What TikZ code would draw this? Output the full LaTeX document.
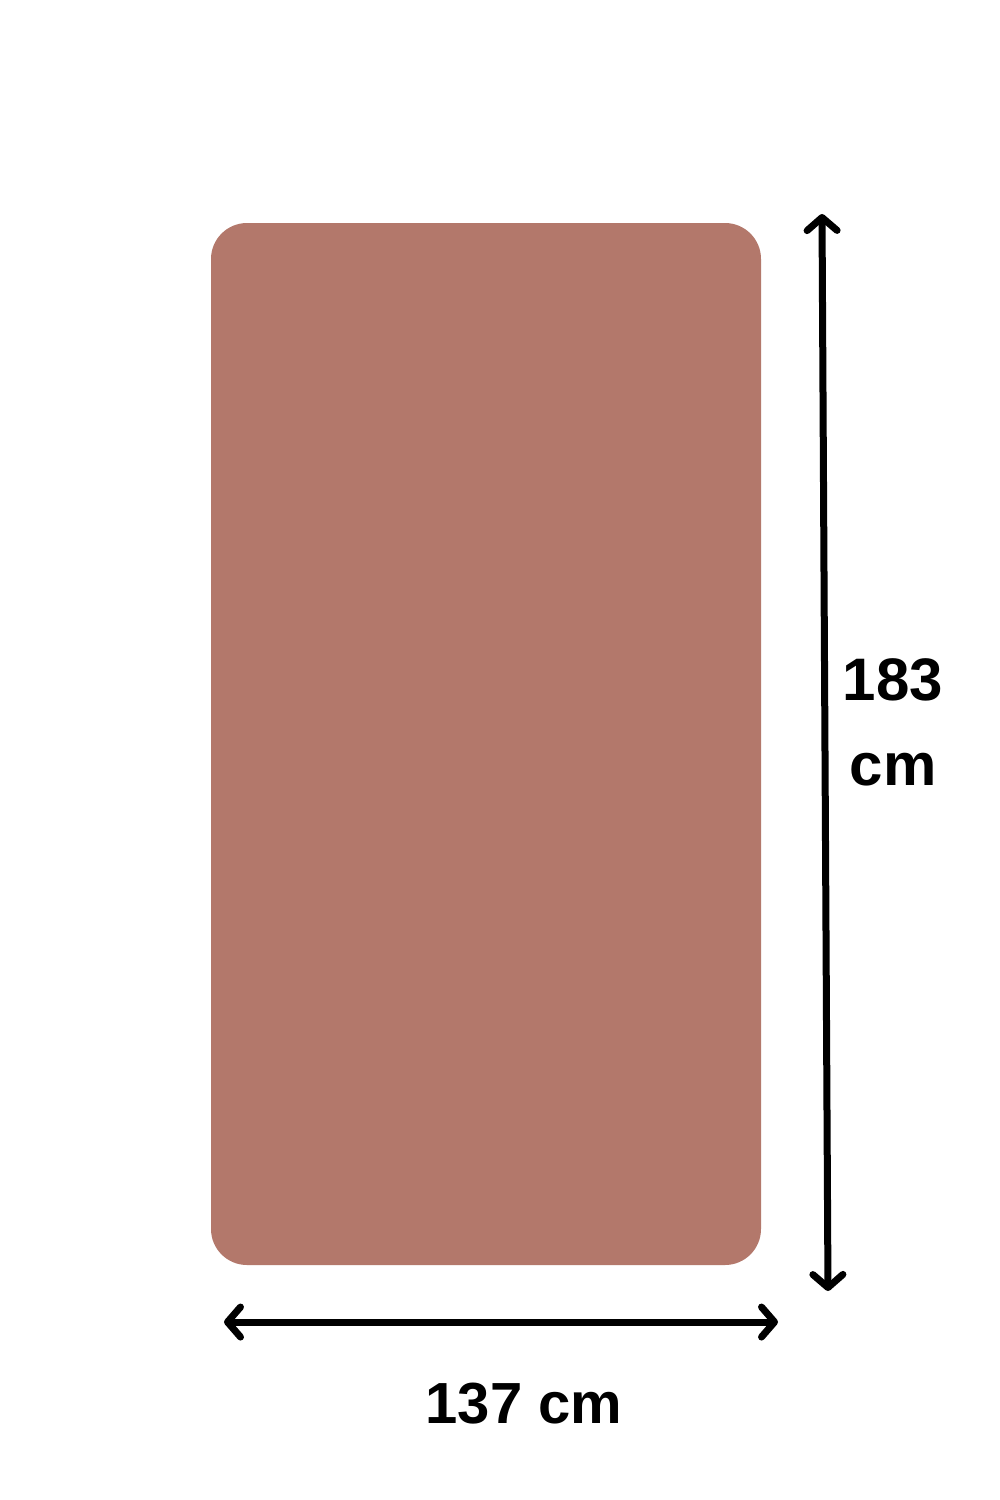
\documentclass[tikz,border=0pt]{standalone}
\usepackage{fontspec}
\setmainfont{Liberation Sans}
\usetikzlibrary{positioning,arrows.meta}
\definecolor{rugbrown}{RGB}{179,120,107}
\begin{document}
\begin{tikzpicture}[x=1pt,y=-1pt]
    \tikzstyle{every node}=[inner sep=0,outer sep=0]
    \tikzstyle{rug}=[fill=rugbrown,draw=none,rounded corners=36,minimum width=550,minimum height=1042]
    \tikzstyle{label}=[font=\bfseries\fontsize{60}{85}\selectfont,align=center,text=black]
    \tikzstyle{measure}=[line width=7,line cap=round,
        {Straight Barb[length=13,width=30,line cap=round,line join=round]}-{Straight Barb[length=13,width=30,line cap=round,line join=round]}]
    \useasboundingbox (0,0) rectangle (1000,1500);
    {
        \node[rug] (mat) at (486,744) {};

        \coordinate (wleft) at (224,1322);
        \coordinate (wright) at (778,1322);
        \coordinate (htop) at (822,214);
        \coordinate (hbot) at (828,1291);

        \node[label] (height) at (893,722) {183\\cm};
        \node[label,font=\bfseries\fontsize{58}{70}\selectfont] (width) at (524,1404) {137 cm};

        \draw[measure] (wleft) -- (wright);
        \draw[measure] (htop) -- (hbot);
    }
\end{tikzpicture}
\end{document}
